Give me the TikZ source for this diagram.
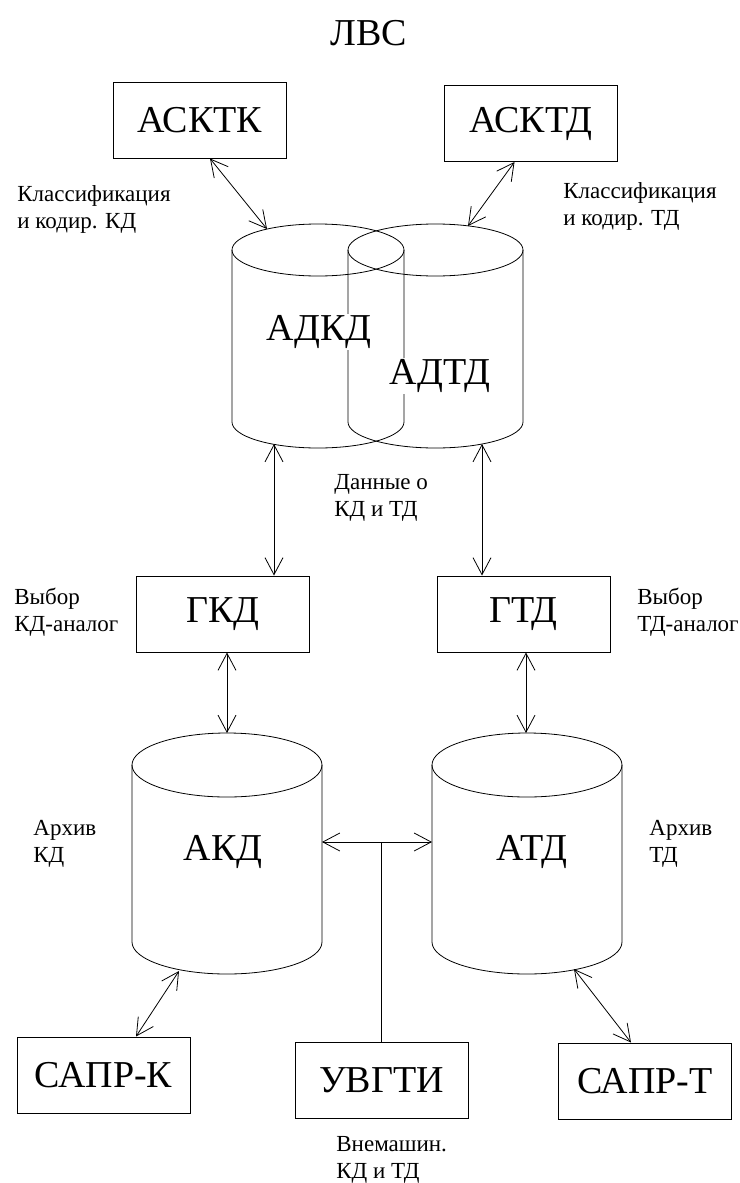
\documentclass[tikz,border=0pt]{standalone}
\usepackage{fontspec}
\setmainfont{Liberation Serif}
\usetikzlibrary{arrows.meta,positioning,calc}

\begin{document}
\begin{tikzpicture}[x=1pt, y=1pt, line width=0.8pt,
  >={Straight Barb[length=17pt,width=18pt]},
  box/.style={draw, line width=1pt, minimum width=173pt, minimum height=76pt,
    inner sep=0pt, font=\fontsize{38}{42}\selectfont},
  big/.style={font=\fontsize{38}{42}\selectfont, inner sep=1pt},
  note/.style={font=\fontsize{23}{27}\selectfont, align=left, inner sep=0pt, anchor=west}]
  \useasboundingbox (0,0) rectangle (739,-1183);

  \node [big] (lvs) at (369,-33) {ЛВС};

  % boxes
  \node [box] (asktk) at (199.5,-120) {АСКТК};
  \node [box] (asktd) at (530.5,-123.5) {АСКТД};
  \node [box] (gkd) at (223,-614) {ГКД};
  \node [box] (gtd) at (523.5,-614) {ГТД};
  \node [box] (saprk) at (103.5,-1075) {САПР-К};
  \node [box] (uvgti) at (381.5,-1080) {УВГТИ};
  \node [box] (saprt) at (645,-1081) {САПР-Т};

  % cylinders
  \draw (318,-250) ellipse (86pt and 26pt);
  \draw (232,-250) -- (232,-422) arc [start angle=180, end angle=360, x radius=86pt, y radius=26pt] -- (404,-250);
  \draw (435.5,-250) ellipse (87.5pt and 26pt);
  \draw (348,-250) -- (348,-422) arc [start angle=180, end angle=360, x radius=87.5pt, y radius=26pt] -- (523,-250);
  \draw (227,-765) ellipse (95pt and 32pt);
  \draw (132,-765) -- (132,-942) arc [start angle=180, end angle=360, x radius=95pt, y radius=32pt] -- (322,-765);
  \draw (527,-765) ellipse (95pt and 32pt);
  \draw (432,-765) -- (432,-942) arc [start angle=180, end angle=360, x radius=95pt, y radius=32pt] -- (622,-765);

  \node [big, fill=white] (adkd) at (319,-332) {АДКД};
  \node [big, fill=white] (adtd) at (440,-376) {АДТД};
  \node [big] (akd) at (223,-852) {АКД};
  \node [big] (atd) at (532,-852) {АТД};

  \coordinate (adkd-in) at (267,-229);
  \coordinate (adtd-in) at (468,-226);
  \coordinate (adkd-out) at (274,-444);
  \coordinate (adtd-out) at (482,-444);
  \coordinate (akd-in) at (227,-733);
  \coordinate (atd-in) at (526,-733);
  \coordinate (akd-side) at (322,-842);
  \coordinate (atd-side) at (432,-842);
  \coordinate (akd-out) at (179,-971);
  \coordinate (atd-out) at (574,-969);

  % connectors
  \draw [<->] ([xshift=10.5pt]asktk.south) -- (adkd-in);
  \draw [<->] ([xshift=-16pt]asktd.south) -- (adtd-in);
  \draw [<->] (adkd-out) -- (adkd-out |- gkd.north);
  \draw [<->] (adtd-out) -- (adtd-out |- gtd.north);
  \draw [<->] (akd-in |- gkd.south) -- (akd-in);
  \draw [<->] (atd-in |- gtd.south) -- (atd-in);
  \draw [<->] (akd-side) -- (atd-side);
  \draw (uvgti.north) -- (uvgti.north |- akd-side);
  \draw [<->] (akd-out) -- ([xshift=32.5pt]saprk.north);
  \draw [<->] (atd-out) -- ([xshift=-14pt]saprt.north);

  % labels
  \node [note] (klass-kd) at (17,-209.5) {Классификация\\и кодир. КД};
  \node [note] (klass-td) at (563,-206) {Классификация\\и кодир. ТД};
  \node [note] (dannye) at (334,-497.5) {Данные о\\КД и ТД};
  \node [note] (vybor-kd) at (14,-612) {Выбор\\КД-аналог};
  \node [note] (vybor-td) at (637,-612) {Выбор\\ТД-аналог};
  \node [note] (arhiv-kd) at (33,-844) {Архив\\КД};
  \node [note] (arhiv-td) at (649,-844) {Архив\\ТД};
  \node [note] (vnemash) at (336,-1160) {Внемашин.\\КД и ТД};
\end{tikzpicture}
\end{document}
